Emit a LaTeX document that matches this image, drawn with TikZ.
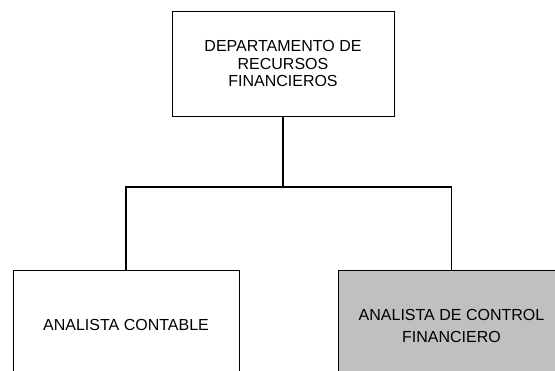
\documentclass[tikz,border=0pt]{standalone}
\usepackage{fontspec}
\setmainfont{Liberation Sans}
\definecolor{cajagris}{HTML}{C0C0C0}
\tikzset{
  caja/.style={draw=black, line width=0.75pt, inner sep=0pt, align=center,
    font=\fontsize{16}{17.5}\selectfont},
  linea/.style={line width=1.5pt}
}

\begin{document}
\begin{tikzpicture}[x=1pt,y=-1pt]
  \useasboundingbox (0,0) rectangle (555,371);
  \clip (0,0) rectangle (555,371);

  \node[caja, minimum width=222pt, minimum height=105pt] (depto) at (283,63.5)
        {DEPARTAMENTO DE\\RECURSOS\\FINANCIEROS};
  \node[caja, minimum width=226pt, minimum height=110pt] (contable) at (126,325)
        {ANALISTA CONTABLE};
  \node[caja, fill=cajagris, minimum width=227pt, minimum height=111pt,
        font=\fontsize{16}{22}\selectfont] (control) at (451.5,325.5)
        {ANALISTA DE CONTROL\\FINANCIERO};

  \coordinate (bus) at (283,187);

  \draw[linea] (depto.south) -- (bus);
  \draw[linea] (contable.north) |- (bus) -| (control.north);
\end{tikzpicture}
\end{document}
